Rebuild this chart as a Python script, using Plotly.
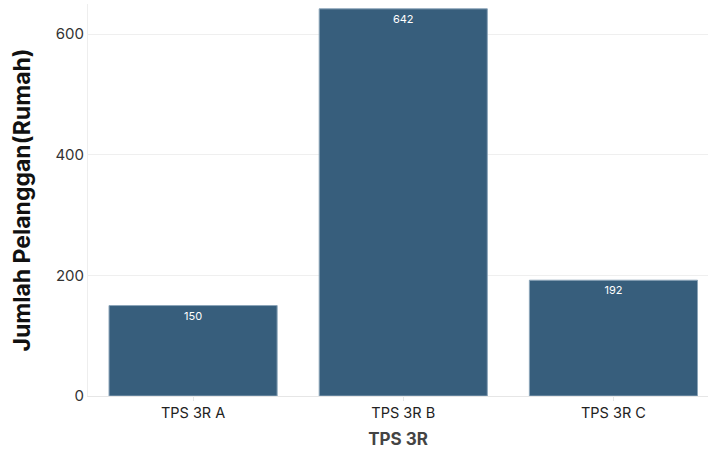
import plotly.graph_objects as go

categories = ["TPS 3R A", "TPS 3R B", "TPS 3R C"]
values = [150, 642, 192]

fig = go.Figure(go.Bar(
    x=categories, y=values, text=[str(v) for v in values],
    textposition="inside", insidetextanchor="end",
    textfont=dict(color="white", size=11, family="Inter"),
    marker=dict(color="rgb(55,94,124)", line=dict(color="rgb(140,165,185)", width=1)),
    width=0.8, showlegend=False,
))
fig.update_layout(
    width=708, height=455,
    margin=dict(l=88, r=0, t=4, b=59),
    plot_bgcolor="white", paper_bgcolor="white",
    font=dict(family="Inter", color="#333"),
    xaxis=dict(
        range=[-0.5, 2.45],
        title=dict(text="<b>TPS 3R</b>", font=dict(size=17, color="#444"), standoff=12),
        tickfont=dict(size=14.5, color="#222"),
        showline=True, linecolor="#e6e6e6", showgrid=False,
        ticks="outside", ticklen=4, tickcolor="#e6e6e6",
    ),
    yaxis=dict(
        range=[0, 650],
        title=dict(text="<b>Jumlah Pelanggan(Rumah)</b>", font=dict(size=23, color="#111"), standoff=18),
        tickvals=[0, 200, 400, 600],
        tickfont=dict(size=15, color="#333"),
        showline=True, linecolor="#eeeeee", gridcolor="#efefef",
        zeroline=False, ticks="", ticklen=4,
    ),
    uniformtext=dict(minsize=8, mode="show"),
)
fig.write_html("out.html")
